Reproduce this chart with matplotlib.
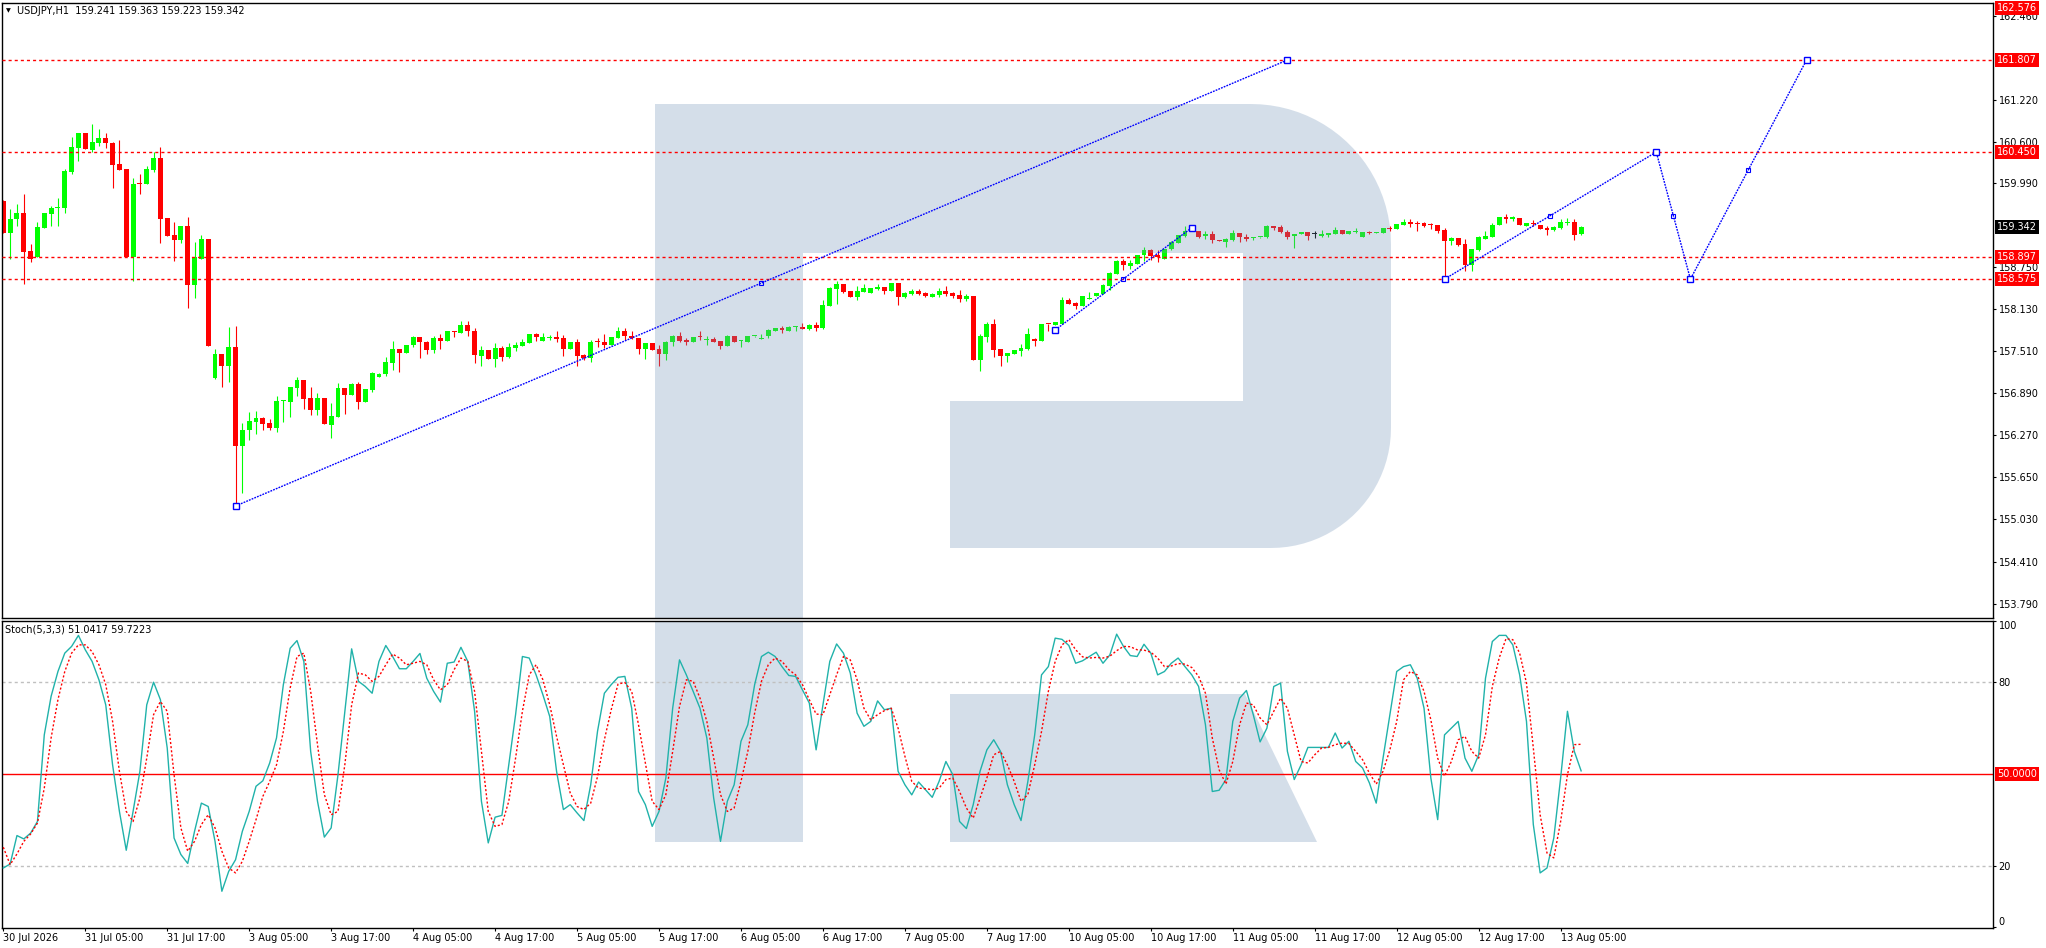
import numpy as np
import matplotlib.pyplot as plt
from matplotlib.patches import Polygon

# USDJPY H1, one value per candle (30 Jul 17:00 ... 13 Aug 08:00)
opens = [
    159.727, 159.260, 159.457, 159.550, 158.990, 158.896, 159.334, 159.541, 159.629, 159.629,
    160.160, 160.514, 160.730, 160.484, 160.583, 160.657, 160.583, 160.273, 160.199, 158.896,
    159.988, 159.983, 160.189, 160.362, 159.477, 159.226, 159.152, 159.359, 158.488, 158.877,
    159.172, 157.117, 157.471, 157.299, 157.574, 156.119, 156.350, 156.468, 156.527, 156.453,
    156.384, 156.773, 156.768, 156.974, 157.087, 156.822, 156.645, 156.822, 156.428, 156.546,
    156.969, 156.871, 157.028, 156.768, 156.944, 157.136, 157.176, 157.338, 157.545, 157.486,
    157.599, 157.722, 157.648, 157.530, 157.707, 157.667, 157.805, 157.785, 157.898, 157.810,
    157.441, 157.530, 157.402, 157.559, 157.427, 157.559, 157.589, 157.633, 157.766, 157.662,
    157.702, 157.721, 157.707, 157.544, 157.648, 157.456, 157.412, 157.648, 157.648, 157.603,
    157.707, 157.810, 157.736, 157.707, 157.544, 157.633, 157.544, 157.471, 157.648, 157.736,
    157.677, 157.648, 157.721, 157.677, 157.692, 157.662, 157.589, 157.736, 157.662, 157.648,
    157.731, 157.692, 157.736, 157.810, 157.854, 157.810, 157.864, 157.869, 157.839, 157.898,
    157.854, 158.183, 158.429, 158.503, 158.405, 158.311, 158.385, 158.375, 158.429, 158.459,
    158.400, 158.518, 158.311, 158.356, 158.400, 158.370, 158.311, 158.341, 158.400, 158.370,
    158.341, 158.282, 158.326, 157.382, 157.726, 157.913, 157.544, 157.441, 157.475, 157.515,
    157.544, 157.692, 157.662, 157.913, 157.898, 157.913, 158.267, 158.223, 158.179, 158.282,
    158.326, 158.356, 158.474, 158.650, 158.842, 158.769, 158.798, 158.931, 159.005, 158.931,
    158.872, 159.019, 159.108, 159.211, 159.285, 159.285, 159.211, 159.241, 159.142, 159.123,
    159.152, 159.255, 159.196, 159.182, 159.190, 159.196, 159.359, 159.344, 159.270, 159.211,
    159.241, 159.270, 159.241, 159.211, 159.226, 159.241, 159.300, 159.241, 159.270, 159.196,
    159.270, 159.255, 159.255, 159.329, 159.314, 159.373, 159.418, 159.403, 159.403, 159.388,
    159.373, 159.300, 159.137, 159.182, 159.093, 158.783, 159.005, 159.167, 159.196, 159.373,
    159.491, 159.462, 159.477, 159.359, 159.403, 159.373, 159.329, 159.300, 159.329, 159.403,
    159.418, 159.241,
]
highs = [
    159.742, 159.614, 159.683, 159.831, 159.093, 159.418, 159.550, 159.654, 159.772, 160.199,
    160.671, 160.730, 160.730, 160.863, 160.789, 160.735, 160.602, 160.627, 160.199, 160.067,
    160.130, 160.239, 160.445, 160.524, 159.477, 159.418, 159.359, 159.491, 159.128, 159.226,
    159.172, 157.545, 157.471, 157.869, 157.884, 156.458, 156.615, 156.630, 156.541, 156.512,
    156.856, 156.792, 156.984, 157.136, 157.087, 156.984, 156.895, 156.822, 156.748, 157.043,
    156.969, 157.043, 157.063, 156.954, 157.210, 157.190, 157.426, 157.662, 157.545, 157.604,
    157.736, 157.722, 157.662, 157.731, 157.766, 157.810, 157.805, 157.957, 157.957, 157.854,
    157.589, 157.530, 157.633, 157.589, 157.633, 157.648, 157.692, 157.766, 157.780, 157.780,
    157.751, 157.810, 157.751, 157.648, 157.692, 157.471, 157.677, 157.707, 157.766, 157.721,
    157.869, 157.854, 157.810, 157.707, 157.633, 157.633, 157.603, 157.662, 157.751, 157.795,
    157.707, 157.721, 157.810, 157.736, 157.721, 157.662, 157.751, 157.736, 157.677, 157.736,
    157.740, 157.766, 157.839, 157.854, 157.884, 157.884, 157.884, 157.928, 157.913, 157.943,
    158.267, 158.459, 158.547, 158.503, 158.405, 158.474, 158.503, 158.449, 158.503, 158.459,
    158.518, 158.518, 158.385, 158.429, 158.429, 158.385, 158.370, 158.444, 158.474, 158.385,
    158.415, 158.356, 158.326, 157.766, 157.943, 157.987, 157.544, 157.485, 157.530, 157.618,
    157.854, 157.707, 157.913, 157.913, 157.943, 158.311, 158.296, 158.238, 158.326, 158.385,
    158.370, 158.503, 158.680, 158.857, 158.872, 158.857, 158.931, 159.049, 159.019, 159.005,
    159.019, 159.137, 159.226, 159.359, 159.300, 159.285, 159.285, 159.285, 159.145, 159.182,
    159.300, 159.255, 159.241, 159.196, 159.200, 159.373, 159.359, 159.373, 159.300, 159.241,
    159.270, 159.270, 159.285, 159.300, 159.255, 159.344, 159.300, 159.285, 159.329, 159.270,
    159.285, 159.275, 159.329, 159.359, 159.388, 159.462, 159.462, 159.432, 159.418, 159.403,
    159.373, 159.329, 159.196, 159.182, 159.167, 159.019, 159.211, 159.285, 159.403, 159.491,
    159.536, 159.506, 159.477, 159.403, 159.447, 159.373, 159.359, 159.359, 159.462, 159.477,
    159.462, 159.363,
]
lows = [
    159.250, 158.877, 159.359, 158.508, 158.828, 158.896, 159.334, 159.359, 159.359, 159.550,
    160.130, 160.317, 160.494, 160.445, 160.543, 160.514, 159.924, 160.189, 158.896, 158.552,
    159.831, 159.983, 160.150, 159.113, 159.211, 158.847, 159.113, 158.154, 158.302, 158.867,
    157.594, 157.097, 156.989, 157.058, 155.229, 155.426, 156.202, 156.296, 156.350, 156.350,
    156.320, 156.468, 156.546, 156.856, 156.664, 156.576, 156.576, 156.438, 156.232, 156.546,
    156.586, 156.871, 156.664, 156.768, 156.915, 157.136, 157.146, 157.235, 157.210, 157.486,
    157.579, 157.417, 157.471, 157.485, 157.544, 157.667, 157.726, 157.785, 157.736, 157.343,
    157.294, 157.402, 157.284, 157.372, 157.412, 157.520, 157.589, 157.633, 157.662, 157.662,
    157.677, 157.648, 157.441, 157.544, 157.294, 157.382, 157.353, 157.574, 157.559, 157.603,
    157.707, 157.677, 157.692, 157.471, 157.397, 157.530, 157.294, 157.382, 157.589, 157.648,
    157.603, 157.648, 157.677, 157.603, 157.648, 157.544, 157.589, 157.648, 157.574, 157.648,
    157.716, 157.692, 157.707, 157.810, 157.780, 157.810, 157.810, 157.839, 157.825, 157.810,
    157.839, 158.183, 158.208, 158.370, 158.316, 158.267, 158.385, 158.375, 158.415, 158.356,
    158.400, 158.193, 158.297, 158.341, 158.341, 158.311, 158.311, 158.311, 158.326, 158.297,
    158.238, 158.252, 157.382, 157.220, 157.648, 157.426, 157.294, 157.353, 157.475, 157.441,
    157.530, 157.589, 157.662, 157.810, 157.898, 157.913, 158.208, 158.134, 158.179, 158.282,
    158.326, 158.356, 158.415, 158.650, 158.710, 158.724, 158.798, 158.842, 158.857, 158.828,
    158.872, 159.005, 159.108, 159.196, 159.280, 159.182, 159.167, 159.108, 159.135, 159.049,
    159.137, 159.123, 159.137, 159.152, 159.185, 159.182, 159.300, 159.255, 159.167, 159.034,
    159.241, 159.152, 159.182, 159.196, 159.196, 159.241, 159.241, 159.241, 159.255, 159.196,
    159.241, 159.250, 159.255, 159.285, 159.314, 159.373, 159.344, 159.285, 159.344, 159.314,
    159.255, 158.575, 159.078, 159.064, 158.695, 158.695, 158.990, 159.167, 159.196, 159.373,
    159.403, 159.432, 159.373, 159.359, 159.359, 159.314, 159.226, 159.285, 159.314, 159.373,
    159.152, 159.223,
]
closes = [
    159.260, 159.462, 159.550, 158.980, 158.877, 159.344, 159.550, 159.629, 159.639, 160.170,
    160.524, 160.730, 160.494, 160.602, 160.657, 160.583, 160.258, 160.189, 158.896, 159.983,
    159.978, 160.199, 160.362, 159.467, 159.211, 159.152, 159.359, 158.488, 158.896, 159.172,
    157.594, 157.471, 157.299, 157.574, 156.119, 156.350, 156.483, 156.527, 156.438, 156.384,
    156.778, 156.783, 156.984, 157.087, 156.812, 156.645, 156.822, 156.438, 156.556, 156.969,
    156.871, 157.028, 156.768, 156.954, 157.190, 157.180, 157.353, 157.545, 157.490, 157.604,
    157.722, 157.653, 157.530, 157.707, 157.667, 157.810, 157.800, 157.898, 157.810, 157.461,
    157.530, 157.402, 157.559, 157.431, 157.574, 157.603, 157.648, 157.766, 157.721, 157.721,
    157.707, 157.692, 157.544, 157.648, 157.441, 157.412, 157.648, 157.643, 157.603, 157.721,
    157.810, 157.736, 157.707, 157.544, 157.633, 157.530, 157.471, 157.648, 157.736, 157.662,
    157.648, 157.721, 157.716, 157.692, 157.648, 157.589, 157.736, 157.648, 157.667, 157.736,
    157.736, 157.697, 157.825, 157.854, 157.825, 157.869, 157.869, 157.839, 157.898, 157.854,
    158.193, 158.449, 158.503, 158.385, 158.316, 158.400, 158.449, 158.449, 158.464, 158.400,
    158.518, 158.311, 158.370, 158.400, 158.356, 158.326, 158.356, 158.400, 158.356, 158.326,
    158.282, 158.326, 157.382, 157.741, 157.913, 157.535, 157.441, 157.485, 157.530, 157.559,
    157.766, 157.662, 157.913, 157.908, 157.943, 158.267, 158.208, 158.179, 158.326, 158.287,
    158.370, 158.488, 158.665, 158.842, 158.783, 158.813, 158.931, 159.005, 158.916, 158.901,
    159.019, 159.123, 159.226, 159.285, 159.300, 159.196, 159.241, 159.152, 159.137, 159.167,
    159.255, 159.196, 159.167, 159.196, 159.195, 159.359, 159.329, 159.270, 159.196, 159.241,
    159.270, 159.211, 159.241, 159.241, 159.255, 159.300, 159.241, 159.285, 159.285, 159.270,
    159.255, 159.270, 159.329, 159.314, 159.388, 159.418, 159.388, 159.388, 159.359, 159.373,
    159.285, 159.137, 159.182, 159.078, 158.783, 159.019, 159.196, 159.211, 159.373, 159.491,
    159.462, 159.491, 159.373, 159.403, 159.388, 159.314, 159.300, 159.344, 159.418, 159.418,
    159.226, 159.342,
]

# Stochastic(5,3,3): main and signal line
stoch_main = [
    19.3, 20.6, 29.9, 28.8, 30.7, 34.5, 62.8, 75.4, 83.5, 89.5,
    91.7, 95.3, 90.6, 86.8, 80.8, 72.6, 53.0, 37.8, 25.1, 37.8,
    50.9, 72.6, 80.0, 74.3, 58.5, 29.1, 23.7, 20.8, 31.3, 40.5,
    39.4, 28.0, 11.7, 18.2, 22.0, 31.3, 37.8, 46.0, 47.8, 53.6,
    61.8, 79.2, 91.1, 93.6, 86.8, 57.4, 41.1, 29.4, 32.4, 49.8,
    70.5, 90.9, 80.3, 78.6, 76.4, 86.8, 92.0, 88.4, 84.4, 84.4,
    86.8, 89.4, 81.3, 77.0, 73.5, 86.2, 86.6, 91.4, 86.8, 70.5,
    41.1, 27.5, 35.9, 36.5, 53.0, 69.4, 88.4, 87.9, 82.4, 75.9,
    68.8, 50.9, 38.4, 40.0, 37.3, 34.8, 46.5, 64.0, 76.4, 79.2,
    81.6, 81.9, 71.5, 44.3, 40.0, 32.9, 37.8, 48.7, 71.5, 87.3,
    82.4, 77.0, 71.5, 61.8, 42.2, 28.0, 41.1, 46.5, 60.7, 66.1,
    79.2, 88.4, 89.8, 88.4, 85.1, 82.2, 81.9, 77.5, 73.2, 57.9,
    72.6, 86.8, 92.5, 89.5, 83.0, 69.9, 65.6, 67.2, 73.9, 71.0,
    71.5, 50.9, 46.5, 43.2, 47.4, 44.9, 42.4, 47.6, 54.1, 49.8,
    34.5, 32.2, 40.0, 50.9, 57.9, 61.2, 57.4, 46.5, 40.0, 34.8,
    47.6, 62.8, 82.4, 85.1, 94.4, 94.0, 92.0, 86.2, 87.0, 88.4,
    89.8, 86.2, 88.9, 95.7, 91.7, 88.7, 88.4, 92.4, 89.5, 82.4,
    83.5, 86.2, 87.9, 85.1, 82.4, 78.6, 66.1, 44.3, 44.7, 48.2,
    67.2, 74.8, 77.3, 69.4, 60.5, 65.0, 78.6, 79.7, 57.4, 48.2,
    53.0, 58.7, 58.7, 58.7, 58.7, 63.4, 58.5, 60.7, 54.1, 52.0,
    47.1, 40.5, 55.2, 69.4, 83.5, 85.1, 85.7, 81.3, 71.5, 48.7,
    35.1, 62.8, 65.0, 67.2, 55.2, 50.9, 56.3, 81.3, 93.3, 95.3,
    95.3, 92.2, 82.4, 67.2, 33.5, 17.7, 19.3, 29.1, 48.7, 70.5,
    57.4, 51.04,
]
stoch_signal = [
    26.1, 20.4, 23.9, 28.0, 30.4, 34.0, 45.4, 61.8, 74.3, 83.5,
    89.5, 92.2, 92.2, 90.0, 85.7, 79.2, 67.2, 50.9, 37.8, 34.5,
    42.2, 55.2, 69.4, 73.7, 70.5, 49.8, 32.4, 24.8, 28.0, 33.5,
    36.7, 32.4, 24.8, 19.3, 17.7, 21.5, 28.0, 35.1, 42.7, 47.6,
    53.0, 63.9, 78.1, 88.4, 89.5, 77.0, 59.6, 43.3, 36.7, 37.8,
    53.0, 72.6, 83.0, 82.4, 80.3, 81.9, 85.7, 89.2, 87.9, 85.7,
    86.2, 86.8, 85.7, 80.8, 77.5, 79.2, 84.1, 87.9, 86.8, 77.0,
    57.4, 37.8, 32.9, 33.5, 41.1, 55.2, 70.5, 82.4, 85.7, 80.8,
    72.6, 62.3, 53.0, 43.8, 39.4, 38.4, 40.5, 49.2, 61.2, 71.0,
    79.4, 79.9, 77.0, 66.1, 53.6, 41.1, 38.4, 43.3, 57.4, 72.1,
    80.8, 80.3, 74.8, 67.2, 55.2, 43.3, 37.8, 38.9, 47.6, 57.4,
    69.9, 80.3, 85.7, 87.9, 86.8, 84.1, 82.4, 79.2, 74.3, 69.6,
    69.4, 75.9, 82.4, 88.4, 87.3, 80.8, 71.5, 67.7, 69.4, 70.7,
    71.5, 65.0, 55.8, 47.6, 45.4, 45.2, 44.9, 45.4, 48.2, 48.7,
    44.3, 38.9, 35.6, 42.2, 48.7, 56.3, 57.4, 53.0, 47.6, 41.1,
    43.3, 53.0, 63.9, 77.0, 86.8, 92.2, 93.9, 90.6, 88.3, 87.9,
    88.1, 87.9, 88.5, 90.3, 91.7, 91.6, 90.6, 90.5, 89.8, 87.9,
    85.1, 85.3, 86.1, 85.9, 84.8, 81.9, 76.4, 61.8, 51.4, 46.7,
    54.1, 66.1, 73.2, 72.6, 68.3, 66.1, 70.5, 74.8, 71.5, 62.8,
    54.1, 53.6, 56.3, 58.5, 58.7, 59.6, 60.1, 60.0, 57.4, 54.7,
    50.3, 46.7, 50.9, 57.9, 67.2, 80.8, 83.5, 82.4, 77.0, 67.7,
    55.2, 49.3, 54.1, 61.2, 62.3, 57.4, 55.2, 62.8, 78.6, 87.9,
    94.2, 93.9, 89.5, 79.7, 58.5, 36.7, 24.2, 22.6, 34.5, 49.8,
    59.6, 59.72,
]

# time axis labels (bar index of each label)
date_ticks = [0, 12, 24, 36, 48, 60, 72, 84, 96, 108, 120, 132, 144, 156, 168, 180, 192, 204, 216, 228]
date_labels = ['30 Jul 2026', '31 Jul 05:00', '31 Jul 17:00', '3 Aug 05:00', '3 Aug 17:00',
               '4 Aug 05:00', '4 Aug 17:00', '5 Aug 05:00', '5 Aug 17:00', '6 Aug 05:00',
               '6 Aug 17:00', '7 Aug 05:00', '7 Aug 17:00', '10 Aug 05:00', '10 Aug 17:00',
               '11 Aug 05:00', '11 Aug 17:00', '12 Aug 05:00', '12 Aug 17:00', '13 Aug 05:00']

price_ticks = [153.790, 154.410, 155.030, 155.650, 156.270, 156.890, 157.510, 158.130,
               158.750, 159.990, 160.600, 161.220, 162.460]
price_tick_labels = ['153.790', '154.410', '155.030', '155.650', '156.270', '156.890', '157.510',
                     '158.130', '158.750', '159.990', '160.600', '161.220', '162.460']

# horizontal levels and tagged prices
levels = [161.807, 160.450, 158.897, 158.575]
tag_prices = [162.576, 161.807, 160.450, 158.897, 158.575]
tag_texts = ['162.576', '161.807', '160.450', '158.897', '158.575']
last_price = 159.342

# trend lines and forecast path
trend_long_x = [34, 188]
trend_long_y = [155.229, 161.807]
trend_short_x = [154, 174]
trend_short_y = [157.825, 159.334]
forecast_x = [211, 242, 247, 264]
forecast_y = [158.575, 160.450, 158.575, 161.807]
mid_marks_x = [111, 164, 226.5, 244.5, 255.5]
mid_marks_y = [158.52, 158.57, 159.51, 159.51, 160.19]

W, H = 2046, 948
fig = plt.figure(figsize=(W / 100, H / 100), dpi=100)
fig.patch.set_facecolor('white')


def fx(px):
    return px / W


def fy(py):
    return 1 - py / H


ax = fig.add_axes([fx(2), fy(618), fx(1993) - fx(2), fy(3) - fy(618)])
ax2 = fig.add_axes([fx(2), fy(928), fx(1993) - fx(2), fy(621) - fy(928)])

x = np.arange(len(opens))
o = np.array(opens)
h = np.array(highs)
l = np.array(lows)
c = np.array(closes)
cols = np.where(c > o, '#00ff00', np.where(c < o, '#ff0000', '#000000'))

xmin, xmax = -0.19, 291.3

# watermark "R" (pixel outline of the picture)
t = np.linspace(0, np.pi / 2, 24)
bowl = [(655, 104), (1251, 104)]
bowl += list(zip(1251 + 140 * np.sin(t), 244 - 140 * np.cos(t)))
bowl += [(1391, 428)]
bowl += list(zip(1271 + 120 * np.cos(t), 428 + 120 * np.sin(t)))
bowl += [(950, 548), (950, 401), (1243, 401), (1243, 253), (803, 253), (803, 842), (655, 842)]
leg = [(950, 694), (1245, 694), (1317, 842), (950, 842)]
logo_color = (115 / 255, 148 / 255, 185 / 255)
for a, z in [(ax, 2.5), (ax2, 0.5)]:
    for shape in (bowl, leg):
        pts = [(fx(px), fy(py)) for px, py in shape]
        a.add_patch(Polygon(pts, closed=True, transform=fig.transFigure, fc=logo_color,
                            ec='none', alpha=0.3, zorder=z))

# --- price panel
ax.vlines(x, l, h, colors=cols, lw=0.8, zorder=2)
ax.bar(x, np.maximum(np.abs(c - o), 0.014), bottom=np.minimum(o, c), width=0.72,
       color=cols, lw=0, zorder=2)

for v in levels:
    ax.axhline(v, color='#ff0000', lw=1, ls=(0, (2.2, 2.2)), zorder=4)

blue = '#0000ff'
for xs, ys in [(trend_long_x, trend_long_y), (trend_short_x, trend_short_y), (forecast_x, forecast_y)]:
    ax.plot(xs, ys, color=blue, lw=1, ls=(0, (1.3, 0.8)), zorder=5)
    ax.plot(xs, ys, ls='none', marker='s', ms=4, mfc='white', mec=blue, mew=1, zorder=6)
ax.plot(mid_marks_x, mid_marks_y, ls='none', marker='s', ms=2.5, mfc='none', mec=blue, mew=0.8, zorder=6)

ax.set_xlim(xmin, xmax)
ax.set_ylim(153.577, 162.648)
ax.set_xticks([])
ax.yaxis.tick_right()
ax.set_yticks(price_ticks)
ax.set_yticklabels(price_tick_labels)
ax.tick_params(axis='y', length=2.5, width=0.8, pad=1.5, labelsize=7, colors='black')

for v, s in zip(tag_prices, tag_texts):
    ax.text(1.002, v, s, transform=ax.get_yaxis_transform(), ha='left', va='center', fontsize=7,
            color='white', bbox=dict(boxstyle='square,pad=0.2', fc='#ff0000', ec='none'),
            clip_on=False, zorder=10)
ax.text(1.002, last_price, f'{last_price:.3f}', transform=ax.get_yaxis_transform(), ha='left',
        va='center', fontsize=7, color='white',
        bbox=dict(boxstyle='square,pad=0.2', fc='black', ec='none'), clip_on=False, zorder=10)

# --- stochastic panel
ax2.axhline(80, color='#c0c0c0', lw=1, ls=(0, (2.2, 2.2)), zorder=2)
ax2.axhline(20, color='#c0c0c0', lw=1, ls=(0, (2.2, 2.2)), zorder=2)
ax2.axhline(50, color='#ff0000', lw=1, zorder=2)
ax2.plot(x, stoch_main, color='#20b2aa', lw=1, zorder=3)
ax2.plot(x, stoch_signal, color='#ff0000', lw=1, ls=(0, (1.5, 1.5)), zorder=3)

ax2.set_xlim(xmin, xmax)
ax2.set_ylim(-0.3, 100)
ax2.yaxis.tick_right()
ax2.set_yticks([0, 20, 80, 100])
ax2.set_yticklabels(['0', '20', '80', '100'])
ax2.tick_params(axis='y', length=2.5, width=0.8, pad=1.5, labelsize=7)
ylbls = ax2.get_yticklabels()
ylbls[0].set_va('bottom')
ylbls[-1].set_va('top')
ax2.text(1.002, 50, '50.0000', transform=ax2.get_yaxis_transform(), ha='left', va='center',
         fontsize=7, color='white', bbox=dict(boxstyle='square,pad=0.2', fc='#ff0000', ec='none'),
         clip_on=False, zorder=10)

ax2.set_xticks(date_ticks)
ax2.set_xticklabels(date_labels, ha='left')
ax2.tick_params(axis='x', length=2.5, width=0.8, pad=1, labelsize=7)

for a in (ax, ax2):
    for sp in a.spines.values():
        sp.set_color('black')
        sp.set_linewidth(1)

fig.text(fx(6), fy(11), '\u25bc', fontsize=4.5, va='center', ha='left')
fig.text(fx(17), fy(11), 'USDJPY,H1  159.241 159.363 159.223 159.342', fontsize=7,
         va='center', ha='left')
fig.text(fx(5), fy(630), 'Stoch(5,3,3) 51.0417 59.7223', fontsize=7, va='center', ha='left')

fig.savefig('out.png', dpi=100, facecolor='white')
